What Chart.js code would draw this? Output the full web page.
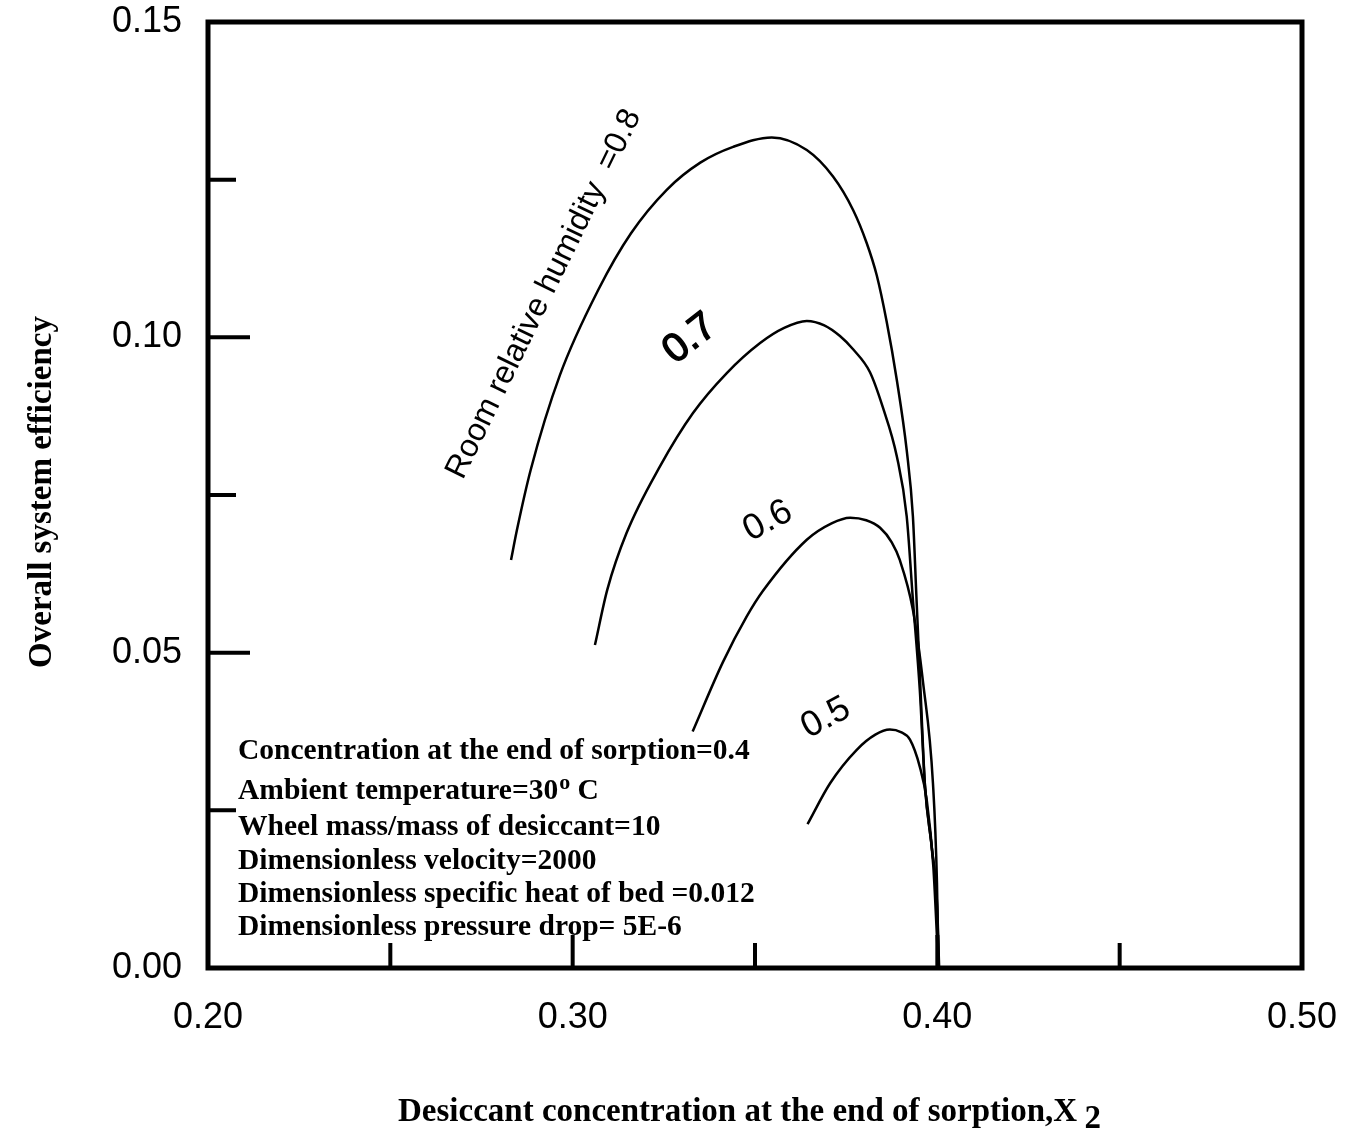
<!DOCTYPE html>
<html>
<head>
<meta charset="utf-8">
<title>Overall system efficiency</title>
<script src="https://cdn.jsdelivr.net/npm/chart.js@4.4.0/dist/chart.umd.min.js"></script>
<style>
  body { margin: 0; background: #fff; }
  canvas { display: block; }
</style>
</head>
<body>
<canvas id="chart" width="1347" height="1129"></canvas>
<script>
// desiccant concentration X2 (x) vs overall system efficiency (y), one curve per room RH
const rh08X = [0.2831, 0.2847, 0.2885, 0.2965, 0.3070, 0.3160, 0.3258, 0.3350, 0.3440, 0.3546, 0.3642, 0.3714, 0.3769, 0.3806, 0.3834, 0.3861, 0.3889, 0.3916, 0.3933, 0.3943, 0.3954, 0.3966, 0.3985, 0.3998, 0.4004];
const rh08Y = [0.0647, 0.0694, 0.0790, 0.0940, 0.1075, 0.1165, 0.1234, 0.1277, 0.1302, 0.1317, 0.1297, 0.1255, 0.1202, 0.1150, 0.1098, 0.1025, 0.0932, 0.0821, 0.0716, 0.0584, 0.0440, 0.0290, 0.0190, 0.0110, 0.0000];

const rh07X = [0.3061, 0.3095, 0.3148, 0.3239, 0.3330, 0.3422, 0.3514, 0.3580, 0.3642, 0.3690, 0.3733, 0.3769, 0.3815, 0.3850, 0.3889, 0.3916, 0.3933, 0.3952, 0.3966, 0.3986, 0.3999, 0.4005];
const rh07Y = [0.0512, 0.0600, 0.0690, 0.0795, 0.0880, 0.0943, 0.0991, 0.1015, 0.1026, 0.1019, 0.1002, 0.0981, 0.0945, 0.0890, 0.0811, 0.0716, 0.0584, 0.0440, 0.0290, 0.0185, 0.0105, 0.0000];

const rh06X = [0.3329, 0.3412, 0.3477, 0.3522, 0.3642, 0.3710, 0.3761, 0.3805, 0.3843, 0.3875, 0.3897, 0.3933, 0.3961, 0.3988, 0.3999, 0.4003];
const rh06Y = [0.0375, 0.0485, 0.0557, 0.0598, 0.0679, 0.0705, 0.0714, 0.0710, 0.0698, 0.0675, 0.0647, 0.0568, 0.0452, 0.0293, 0.0135, 0.0000];

const rh05X = [0.3644, 0.3706, 0.3779, 0.3830, 0.3870, 0.3900, 0.3925, 0.3952, 0.3971, 0.3989, 0.4003];
const rh05Y = [0.0228, 0.0293, 0.0346, 0.0370, 0.0378, 0.0374, 0.0362, 0.0319, 0.0266, 0.0161, 0.0000];

const curveNames = ['0.8', '0.7', '0.6', '0.5'];

const xTickLabels = [0.20, 0.30, 0.40, 0.50];
const yTickLabels = [0.00, 0.05, 0.10, 0.15];
const xMajorMarks = [0.30, 0.40];
const xMinorMarks = [0.25, 0.35, 0.45];
const yMajorMarks = [0.05, 0.10];
const yMinorMarks = [0.025, 0.075, 0.125];

const notes = [
  'Concentration at the end of sorption=0.4',
  'Ambient temperature=30',
  'Wheel mass/mass of desiccant=10',
  'Dimensionless velocity=2000',
  'Dimensionless specific heat of bed =0.012',
  'Dimensionless pressure drop= 5E-6'
];

function toPoints(xs, ys) {
  return xs.map((x, i) => ({ x: x, y: ys[i] }));
}

const curves = [
  toPoints(rh08X, rh08Y),
  toPoints(rh07X, rh07Y),
  toPoints(rh06X, rh06Y),
  toPoints(rh05X, rh05Y)
];

const SERIF = '"Liberation Serif", "Times New Roman", serif';
const SANS = '"Liberation Sans", Arial, sans-serif';

function rotatedText(ctx, text, x, y, deg, font, heavy) {
  ctx.save();
  ctx.translate(x, y);
  ctx.rotate(deg * Math.PI / 180);
  ctx.font = font;
  ctx.textAlign = 'center';
  ctx.textBaseline = 'middle';
  ctx.fillText(text, 0, 0);
  if (heavy) {
    ctx.lineWidth = 1.4;
    ctx.strokeText(text, 0, 0);
  }
  ctx.restore();
}

const decor = {
  id: 'decor',
  afterDraw(chart) {
    const ctx = chart.ctx;
    const a = chart.chartArea;
    const xs = chart.scales.x, ys = chart.scales.y;
    ctx.save();
    ctx.strokeStyle = '#000';
    ctx.fillStyle = '#000';

    // frame
    ctx.lineWidth = 5;
    ctx.strokeRect(a.left, a.top, a.right - a.left, a.bottom - a.top);

    // inward tick marks
    ctx.lineWidth = 4;
    ctx.beginPath();
    yMajorMarks.forEach(v => { const p = ys.getPixelForValue(v); ctx.moveTo(a.left, p); ctx.lineTo(a.left + 42, p); });
    yMinorMarks.forEach(v => { const p = ys.getPixelForValue(v); ctx.moveTo(a.left, p); ctx.lineTo(a.left + 28, p); });
    xMajorMarks.forEach(v => { const p = xs.getPixelForValue(v); ctx.moveTo(p, a.bottom); ctx.lineTo(p, a.bottom - 33); });
    xMinorMarks.forEach(v => { const p = xs.getPixelForValue(v); ctx.moveTo(p, a.bottom); ctx.lineTo(p, a.bottom - 25); });
    ctx.stroke();

    // axis titles
    ctx.font = 'bold 33px ' + SERIF;
    ctx.textBaseline = 'alphabetic';
    ctx.textAlign = 'left';
    const xt = 'Desiccant concentration at the end of sorption,X';
    ctx.fillText(xt, 398, 1121);
    const w = ctx.measureText(xt + ' ').width;
    ctx.fillText('2', 397 + w, 1128);

    ctx.save();
    ctx.translate(42, 492);
    ctx.rotate(-Math.PI / 2);
    ctx.textAlign = 'center';
    ctx.textBaseline = 'middle';
    ctx.fillText('Overall system efficiency', 0, 0);
    ctx.restore();

    // parameter notes
    const baselines = [759, 799, 835, 869, 902, 935];
    ctx.font = 'bold 29.5px ' + SERIF;
    ctx.textAlign = 'left';
    ctx.textBaseline = 'alphabetic';
    notes.forEach((t, i) => {
      ctx.fillText(t, 238, baselines[i]);
      if (i === 1) {
        let x = 238 + ctx.measureText(t).width + 1;
        ctx.font = 'bold 22px ' + SERIF;
        ctx.fillText('o', x, baselines[i] - 10);
        x += ctx.measureText('o').width;
        ctx.font = 'bold 29.5px ' + SERIF;
        ctx.fillText(' C', x, baselines[i]);
      }
    });

    // curve labels
    rotatedText(ctx, 'Room relative humidity  =' + curveNames[0], 544, 294, -64, '32px ' + SANS, false);
    rotatedText(ctx, curveNames[1], 690, 339, -38, '40px ' + SANS, true);
    rotatedText(ctx, curveNames[2], 768, 521, -28, '36px ' + SANS, false);
    rotatedText(ctx, curveNames[3], 826, 718, -28, '36px ' + SANS, false);
    ctx.restore();
  }
};

const ctx = document.getElementById('chart').getContext('2d');
new Chart(ctx, {
  type: 'scatter',
  data: {
    datasets: curves.map((pts, i) => ({
      label: 'RH ' + curveNames[i],
      data: pts,
      showLine: true,
      borderColor: '#000',
      borderWidth: 2.5,
      pointRadius: 0,
      cubicInterpolationMode: 'monotone',
      fill: false
    }))
  },
  options: {
    responsive: false,
    animation: false,
    layout: { padding: { top: 22, right: 45, left: 0, bottom: 0 } },
    plugins: { legend: { display: false }, tooltip: { enabled: false } },
    scales: {
      x: {
        type: 'linear', min: 0.2, max: 0.5,
        grid: { display: false, drawTicks: false },
        border: { display: false },
        afterBuildTicks: s => { s.ticks = xTickLabels.map(v => ({ value: v })); },
        afterFit: s => { s.height = 161; s.paddingLeft = 0; s.paddingRight = 0; },
        ticks: {
          color: '#000', padding: 28, autoSkip: false, maxRotation: 0,
          font: { family: SANS, size: 36 },
          callback: v => Number(v).toFixed(2)
        }
      },
      y: {
        type: 'linear', min: 0, max: 0.15,
        grid: { display: false, drawTicks: false },
        border: { display: false },
        afterBuildTicks: s => { s.ticks = yTickLabels.map(v => ({ value: v })); },
        afterFit: s => { s.width = 208; s.paddingTop = 0; s.paddingBottom = 0; },
        ticks: {
          color: '#000', padding: 26, autoSkip: false,
          font: { family: SANS, size: 36 },
          callback: v => Number(v).toFixed(2)
        }
      }
    }
  },
  plugins: [decor]
});
</script>
</body>
</html>
